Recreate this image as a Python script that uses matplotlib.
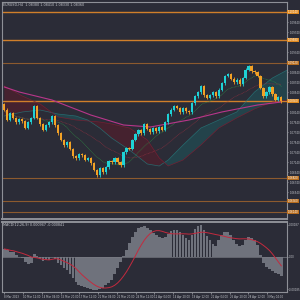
import matplotlib
matplotlib.use("Agg")
import matplotlib.pyplot as plt
import matplotlib.transforms as mtransforms
import numpy as np
import pandas as pd

# H4 closes
closes = [1.0818, 1.0798, 1.0812, 1.0802, 1.0794, 1.0800, 1.0796, 1.0782, 1.0794, 1.0802,
          1.0826, 1.0802, 1.0790, 1.0778, 1.0788, 1.0794, 1.0806, 1.0788, 1.0772, 1.0758,
          1.0748, 1.0754, 1.0740, 1.0726, 1.0722, 1.0730, 1.0728, 1.0718, 1.0722, 1.0712,
          1.0698, 1.0688, 1.0702, 1.0694, 1.0704, 1.0716, 1.0714, 1.0722, 1.0714, 1.0708,
          1.0734, 1.0742, 1.0740, 1.0758, 1.0770, 1.0778, 1.0772, 1.0790, 1.0780, 1.0774,
          1.0782, 1.0776, 1.0784, 1.0778, 1.0794, 1.0810, 1.0818, 1.0826, 1.0822, 1.0814,
          1.0822, 1.0816, 1.0814, 1.0832, 1.0846, 1.0854, 1.0866, 1.0848, 1.0842, 1.0848,
          1.0854, 1.0846, 1.0858, 1.0872, 1.0886, 1.0890, 1.0880, 1.0874, 1.0878, 1.0870,
          1.0882, 1.0898, 1.0906, 1.0896, 1.0894, 1.0886, 1.0862, 1.0846, 1.0854, 1.0864,
          1.0850, 1.0838, 1.0844, 1.0836]
first_open = 1.0830

# slow moving average (magenta)
ma_idx = [0, 5, 16, 29, 40, 49, 62, 73, 85, 93]
ma_vals = [1.0864, 1.0854, 1.0838, 1.0808, 1.0788, 1.0784, 1.0798, 1.0814, 1.0828, 1.0834]

# ichimoku cloud
cloud_idx = [0, 6, 12, 18, 24, 28, 32, 36, 42, 48, 52, 55, 60, 66, 72, 78, 84, 90, 95]
span_a = [1.0806, 1.0814, 1.0818, 1.0810, 1.0806, 1.0798, 1.0782, 1.0762, 1.0738, 1.0710,
          1.0706, 1.0718, 1.0748, 1.0782, 1.0798, 1.0814, 1.0854, 1.0882, 1.0898]
span_b = [1.0866, 1.0846, 1.0830, 1.0804, 1.0798, 1.0796, 1.0794, 1.0790, 1.0782, 1.0758,
          1.0722, 1.0706, 1.0718, 1.0748, 1.0782, 1.0802, 1.0820, 1.0834, 1.0838]

levels_major = [1.1014, 1.0958, 1.0836]
levels_minor = [1.0912, 1.0682, 1.0636, 1.0614]

# MACD main, in units of 0.001
macd_main = [0.40, 0.35, 0.25, 0.25, 0.10, 0.00, -0.05, -0.25, -0.35, -0.30,
             0.15, 0.05, -0.10, -0.20, -0.15, -0.15, 0.00, -0.10, -0.30, -0.40,
             -0.55, -0.65, -0.85, -1.05, -1.25, -1.40, -1.45, -1.50, -1.55, -1.60,
             -1.65, -1.65, -1.60, -1.55, -1.40, -1.30, -1.15, -0.85, -0.55, -0.25,
             0.05, 0.35, 0.70, 1.00, 1.25, 1.45, 1.50, 1.55, 1.45, 1.35,
             1.20, 1.10, 1.00, 0.95, 1.00, 1.15, 1.30, 1.35, 1.35, 1.25,
             1.10, 0.95, 0.85, 1.10, 1.40, 1.55, 1.60, 1.35, 1.05, 0.85,
             0.65, 0.55, 0.85, 1.10, 1.25, 1.25, 1.10, 0.85, 0.65, 0.55,
             0.60, 0.85, 1.00, 0.95, 0.85, 0.60, 0.10, -0.30, -0.50, -0.60,
             -0.70, -0.80, -0.85, -0.95]

date_pos = [0, 6.3, 12.6, 18.9, 25.2, 31.5, 37.8, 44.1, 50.4, 56.7, 63.0, 69.3, 75.6, 81.9, 88.2]
date_labels = ["8 Mar 2023", "10 Mar 12:00", "14 Mar 04:00", "15 Mar 20:00", "17 Mar 12:00",
               "21 Mar 04:00", "22 Mar 20:00", "24 Mar 12:00", "12 Apr 04:00", "14 Apr 20:00",
               "19 Apr 12:00", "21 Apr 04:00", "25 Apr 20:00", "28 Apr 12:00", "3 May 04:00"]

BG = "#2b2c37"
TXT = "#c4c6cc"
FRAME = "#8e9097"
UP = "#1fd2d6"
DOWN = "#f2a126"

fig = plt.figure(figsize=(3, 3), dpi=100, facecolor=BG)
ax = fig.add_axes([2 / 300, 81 / 300, 285 / 300, 217 / 300], facecolor=BG)
ax2 = fig.add_axes([2 / 300, 8 / 300, 285 / 300, 70 / 300], facecolor=BG)

x = np.arange(len(closes))
c = np.array(closes)
o = np.array([first_open] + closes[:-1])
hi = np.maximum(o, c) + 0.0003
lo = np.minimum(o, c) - 0.0003

# cloud
a = np.array(span_a)
b = np.array(span_b)
ax.fill_between(cloud_idx, a, b, where=a >= b, interpolate=True, color="#1f5459", alpha=0.6, lw=0)
ax.fill_between(cloud_idx, a, b, where=a < b, interpolate=True, color="#4f1f2d", alpha=0.75, lw=0)
ax.plot(cloud_idx, span_a, color="#26787b", lw=0.5, alpha=0.8)
ax.plot(cloud_idx, span_b, color="#7a1e32", lw=0.5, alpha=0.9)

# level lines
for lv in levels_major:
    ax.axhline(lv, color="#d07f2a", lw=1.0, zorder=1)
for lv in levels_minor:
    ax.axhline(lv, color="#8c5a2e", lw=0.8, zorder=1)

# moving averages
s = pd.Series(closes)
ax.plot(x, s.rolling(12, min_periods=1).mean(), color="#2f8a46", lw=0.5, ls=(0, (1, 1)))
ax.plot(x, s.rolling(24, min_periods=1).mean(), color="#903040", lw=0.5, ls=(0, (1, 1)))
ax.plot(ma_idx, ma_vals, color="#b8368a", lw=0.8)

# candles
cols = [UP if cc >= oo else DOWN for oo, cc in zip(o, c)]
ax.vlines(x, lo, hi, colors=cols, lw=0.6, zorder=3)
body = np.where(np.abs(c - o) < 0.00015, 0.00015, c - o)
ax.bar(x, body, bottom=o, width=0.75, color=cols, lw=0, zorder=4)

ax.set_xlim(-0.8, 94.9)
ax.set_ylim(1.0600, 1.1034)
ax.yaxis.tick_right()
ticks = 1.1034 - 0.0020 * np.arange(1, 22)
ticks = [t for t in ticks if min(abs(t - lv) for lv in levels_major + levels_minor) > 0.0008]
ax.set_yticks(ticks)
ax.set_yticklabels(["%.5f" % t for t in ticks])
ax.tick_params(axis="y", labelsize=1.9, colors=TXT, length=1, width=0.4, pad=0.6)
ax.set_xticks([])
for sp in ax.spines.values():
    sp.set_color(FRAME)
    sp.set_linewidth(0.8)
ax.spines["bottom"].set_linewidth(1.4)

trans = mtransforms.blended_transform_factory(ax.transAxes, ax.transData)
for lv in levels_major + levels_minor:
    colr = "#e08a20" if lv in levels_major else "#b86d1e"
    ax.text(1.003, lv, "%.5f" % lv, transform=trans, fontsize=1.9, color="white",
            va="center", ha="left", bbox=dict(boxstyle="square,pad=0.15", fc=colr, ec="none"))

ax.text(0.004, 0.997, "EURUSD,H4  1.08380 1.08410 1.08330 1.08360", transform=ax.transAxes,
        fontsize=2.4, color=TXT, va="top", ha="left")

# MACD panel
m = np.array(macd_main) * 0.001
sig = pd.Series(m).rolling(9, min_periods=1).mean()
ax2.bar(x, m, width=0.9, color="#6f727c", lw=0)
ax2.axhline(0, color="#7a7c84", lw=0.5)
ax2.plot(x, sig, color="#c42a3e", lw=0.7)
ax2.set_xlim(-0.8, 94.9)
ax2.set_ylim(-0.00175, 0.00175)
ax2.yaxis.tick_right()
ax2.set_yticks([0.00162, 0.0, -0.00162])
ax2.set_yticklabels(["0.00187", "0.00", "-0.00185"])
ax2.tick_params(axis="y", labelsize=1.9, colors=TXT, length=1, width=0.4, pad=0.6)
ax2.set_xticks(date_pos)
ax2.set_xticklabels(date_labels)
ax2.tick_params(axis="x", labelsize=1.9, colors=TXT, length=1.5, width=0.4, pad=0.5)
for lab in ax2.get_xticklabels():
    lab.set_ha("left")
for sp in ax2.spines.values():
    sp.set_color(FRAME)
    sp.set_linewidth(0.8)
ax2.spines["top"].set_linewidth(1.4)
ax2.text(0.004, 0.985, "MACD(12,26,9) 0.000947 -0.000841", transform=ax2.transAxes,
         fontsize=2.4, color=TXT, va="top", ha="left")

fig.savefig("out.png", dpi=100, facecolor=BG)
